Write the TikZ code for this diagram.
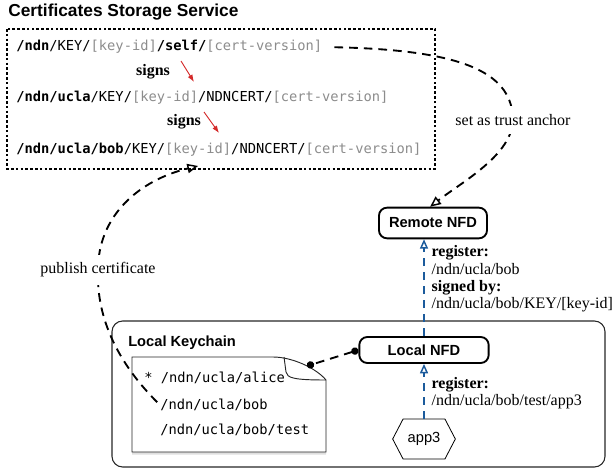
\documentclass[tikz,border=0pt]{standalone}
\usepackage{fontspec}
\setmainfont{Liberation Serif}
\setsansfont{Liberation Sans}
\setmonofont{DejaVu Sans Mono}
\usetikzlibrary{arrows.meta,shapes.symbols,shadows}
\definecolor{idgray}{HTML}{8C8C8C}
\definecolor{signred}{HTML}{D42A2A}
\definecolor{regblue}{HTML}{1C5B9C}
\newcommand\kid{\textcolor{idgray}{[key-id]}}
\newcommand\cver{\textcolor{idgray}{[cert-version]}}

\begin{document}
\begin{tikzpicture}[x=0.75pt, y=-0.75pt,
  grouptitle/.style = {font=\fontsize{13}{15}\sffamily\bfseries, anchor=west, inner sep=1.5pt},
  boxtitle/.style = {font=\fontsize{11}{13}\sffamily\bfseries, anchor=west, inner sep=1.5pt},
  certline/.style = {font=\fontsize{10.3}{12}\ttfamily, anchor=west, inner sep=0pt},
  signlbl/.style = {font=\fontsize{12}{14}\bfseries},
  signarrow/.style = {draw=signred, line width=0.7pt, -{Latex[length=5.5pt,width=4pt]}},
  storage/.style = {line width=1.5pt, dash pattern=on 2pt off 1.6pt},
  nfd/.style = {draw, rounded corners=6pt, line width=1.4pt, fill=white,
    font=\fontsize{11}{13}\sffamily\bfseries},
  app/.style = {draw, line width=0.6pt, fill=white, signal, signal to=east and west,
    signal pointer angle=125, minimum width=47pt, minimum height=30pt,
    inner sep=1pt, font=\fontsize{11}{13}\sffamily},
  flowlbl/.style = {font=\fontsize{12}{13}\selectfont, align=left, anchor=west, inner sep=1pt},
  openarrow/.style = {line width=1.4pt, dash pattern=on 6.5pt off 4.5pt,
    -{Triangle[open, length=8pt, width=7pt, line width=1.1pt]}},
  reg/.style = {draw=regblue, line width=1.4pt, dash pattern=on 6pt off 4.5pt,
    -{Triangle[open, length=7pt, width=6pt, line width=1.1pt]}},
  doclink/.style = {line width=1.4pt, dash pattern=on 6.5pt off 4.5pt,
    {Circle[length=5.5pt]}-{Circle[length=5.5pt]}},
  gaplbl/.style = {fill=white, font=\fontsize{12}{14}\selectfont, inner sep=6pt}]

\useasboundingbox (0,0) rectangle (613,470);

\node[grouptitle] (storagetitle) at (6,12) {Certificates Storage Service};
\draw[storage] (7,29) rectangle (435,169);

\node[certline] (cert1) at (16,47) {\textbf{/ndn}/KEY/\kid\textbf{/self/}\cver};
\node[certline] (cert2) at (16,98) {\textbf{/ndn/ucla}/KEY/\kid/NDNCERT/\cver};
\node[certline] (cert3) at (16,150) {\textbf{/ndn/ucla/bob}/KEY/\kid/NDNCERT/\cver};

\node[signlbl] (signs1) at (153,72) {signs};
\node[signlbl] (signs2) at (184,122) {signs};
\coordinate (s1from) at (181,61);
\coordinate (s1to) at (194,82);
\coordinate (s2from) at (204,112);
\coordinate (s2to) at (219,133);
\draw[signarrow] (s1from) -- (s1to);
\draw[signarrow] (s2from) -- (s2to);

\draw[black!85, line width=0.8pt, rounded corners=8pt] (112,321) rectangle (605,467);
\node[boxtitle] (kctitle) at (126,343) {Local Keychain};

\filldraw[fill=white, draw=black!85, line width=0.7pt,
  drop shadow={opacity=0.25, shadow xshift=0pt, shadow yshift=-2pt}]
  (132,357) -- (273,357) .. controls (292,357) and (316,368) .. (326,380)
  -- (326,452) -- (132,452) -- cycle;
\draw[black!85, line width=0.7pt] (284,357) -- (286,372)
  .. controls (287,378) and (294,380) .. (326,380);
\coordinate (docfold) at (307,366);

\node[certline] (kc1) at (144,378) {* /ndn/ucla/alice};
\node[certline] (kc2) at (160,405) {/ndn/ucla/bob};
\node[certline] (kc3) at (160,430) {/ndn/ucla/bob/test};

\node[nfd, minimum width=81pt, minimum height=23pt] (remote) at (433,223) {Remote NFD};
\node[nfd, minimum width=97pt, minimum height=19.5pt] (localnfd) at (424,350) {Local NFD};
\node[app] (app3) at (424,439) {app3};

\draw[reg] (localnfd.north) -- (localnfd.north |- remote.south);
\draw[reg] (app3.north) -- (localnfd.south);
\node[flowlbl] (remotereg) at (430,279) {\textbf{register:}\\/ndn/ucla/bob\\\textbf{signed by:}\\/ndn/ucla/bob/KEY/[key-id]};
\node[flowlbl] (localreg) at (430,393) {\textbf{register:}\\/ndn/ucla/bob/test/app3};

\draw[doclink] (localnfd.west) -- (docfold);

\coordinate (pubend) at (198,166);
\draw[openarrow, shorten <=3pt] (kc2.west) .. controls (120,365) and (96,320) .. (98,270)
  node[gaplbl] (publbl) {publish certificate}
  .. controls (98,215) and (140,180) .. (pubend);

\draw[openarrow, shorten <=9pt] (cert1.east) .. controls (470,50) and (512,75) .. (513,120)
  node[gaplbl] (trustlbl) {set as trust anchor}
  .. controls (512,155) and (462,182) .. (remote.100);
\end{tikzpicture}
\end{document}
